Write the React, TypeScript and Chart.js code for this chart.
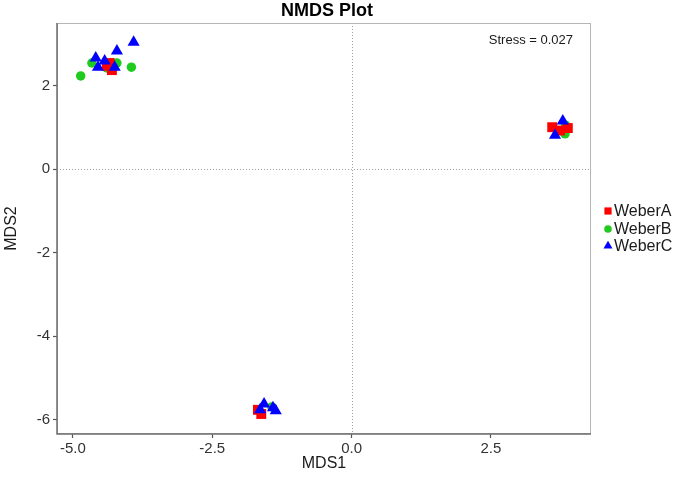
import React, { useEffect, useRef } from "react";
import { Chart, registerables } from "chart.js";

Chart.register(...registerables);

const seriesNames = ["WeberA", "WeberB", "WeberC"];
const seriesColors = ["#ff0000", "#1ecb1e", "#0000ff"];

const weberAx = [-4.34, -4.3, -4.39, 3.6, 3.88, 3.74, -1.68, -1.62];
const weberAy = [2.55, 2.38, 2.48, 1.01, 0.99, 0.93, -5.77, -5.87];

const weberBx = [-4.86, -4.66, -4.39, -4.21, -3.95, 3.79, 3.84, 3.83, -1.43];
const weberBy = [2.24, 2.55, 2.43, 2.55, 2.45, 0.92, 1.06, 0.85, -5.7];

const weberCx = [-3.91, -4.21, -4.59, -4.55, -4.25, -4.43, 3.79, 3.65, -1.57, -1.64, -1.41, -1.36];
const weberCy = [3.05, 2.84, 2.67, 2.45, 2.45, 2.6, 1.16, 0.82, -5.63, -5.77, -5.72, -5.79];

const xTicks = [-5, -2.5, 0, 2.5];
const yTicks = [-6, -4, -2, 0, 2];
const xRange = [-5.285, 4.296];
const yRange = [-6.35, 3.51];

const titleText = "NMDS Plot";
const stressText = "Stress = 0.027";
const xTitle = "MDS1";
const yTitle = "MDS2";

const FONT = "'Liberation Sans', Arial, Helvetica, sans-serif";

function toPoints(xs: number[], ys: number[]) {
  return xs.map((x, i) => ({ x, y: ys[i] }));
}

function drawMarker(ctx: CanvasRenderingContext2D, style: string, x: number, y: number, r: number) {
  ctx.beginPath();
  if (style === "rect") {
    ctx.rect(x - r, y - r, 2 * r, 2 * r);
  } else if (style === "circle") {
    ctx.arc(x, y, r, 0, Math.PI * 2);
  } else {
    ctx.moveTo(x, y - r);
    ctx.lineTo(x + r * 0.866, y + r * 0.5);
    ctx.lineTo(x - r * 0.866, y + r * 0.5);
    ctx.closePath();
  }
  ctx.fill();
}

const decorPlugin = {
  id: "decor",
  beforeDatasetsDraw(chart: any) {
    const { ctx, chartArea, scales } = chart;
    const { left, right, top, bottom } = chartArea;
    ctx.save();
    ctx.strokeStyle = "#a0a0a0";
    ctx.lineWidth = 1;
    ctx.setLineDash([1, 2]);
    const x0 = Math.round(scales.x.getPixelForValue(0)) + 0.5;
    const y0 = Math.round(scales.y.getPixelForValue(0)) + 0.5;
    ctx.beginPath();
    ctx.moveTo(x0, top);
    ctx.lineTo(x0, bottom);
    ctx.moveTo(left, y0);
    ctx.lineTo(right, y0);
    ctx.stroke();
    ctx.setLineDash([]);
    ctx.strokeStyle = "#b5b5b5";
    ctx.lineWidth = 1;
    ctx.strokeRect(left + 0.5, top + 0.5, right - left - 1, bottom - top - 1);
    ctx.strokeStyle = "#6e6e6e";
    ctx.lineWidth = 1.5;
    ctx.beginPath();
    ctx.moveTo(left, top);
    ctx.lineTo(left, bottom);
    ctx.lineTo(right, bottom);
    ctx.stroke();
    ctx.restore();
  },
  afterDraw(chart: any) {
    const { ctx, chartArea } = chart;
    ctx.save();
    ctx.fillStyle = "#000";
    ctx.font = `bold 18px ${FONT}`;
    ctx.textAlign = "center";
    ctx.textBaseline = "middle";
    ctx.fillText(titleText, (chartArea.left + chartArea.right) / 2 + 3, 11);
    ctx.font = `13px ${FONT}`;
    ctx.fillStyle = "#1a1a1a";
    ctx.textAlign = "right";
    ctx.fillText(stressText, chartArea.right - 18, 40);
    const styles = ["rect", "circle", "triangle"];
    const radii = [3.6, 3.8, 5.2];
    const ys = [211, 229, 246];
    ctx.font = `16px ${FONT}`;
    ctx.textAlign = "left";
    for (let i = 0; i < seriesNames.length; i++) {
      ctx.fillStyle = seriesColors[i];
      drawMarker(ctx, styles[i], 608, ys[i], radii[i]);
      ctx.fillStyle = "#1a1a1a";
      ctx.fillText(seriesNames[i], 614, ys[i] + 1);
    }
    ctx.restore();
  },
};

export default function App() {
  const canvasRef = useRef<HTMLCanvasElement | null>(null);

  useEffect(() => {
    if (!canvasRef.current) return;
    const chart = new Chart(canvasRef.current, {
      type: "scatter",
      data: {
        datasets: [
          {
            label: seriesNames[0],
            data: toPoints(weberAx, weberAy),
            pointStyle: "rect",
            pointRadius: 7,
            backgroundColor: seriesColors[0],
            borderColor: seriesColors[0],
            borderWidth: 0,
            order: 2,
          },
          {
            label: seriesNames[1],
            data: toPoints(weberBx, weberBy),
            pointStyle: "circle",
            pointRadius: 4.7,
            backgroundColor: seriesColors[1],
            borderColor: seriesColors[1],
            borderWidth: 0,
            order: 3,
          },
          {
            label: seriesNames[2],
            data: toPoints(weberCx, weberCy),
            pointStyle: "triangle",
            pointRadius: 7,
            backgroundColor: seriesColors[2],
            borderColor: seriesColors[2],
            borderWidth: 0,
            order: 1,
          },
        ],
      },
      options: {
        animation: false,
        responsive: true,
        maintainAspectRatio: false,
        layout: { padding: { top: 23, right: 94, bottom: 6, left: 0 } },
        plugins: {
          legend: { display: false },
          title: { display: false },
          tooltip: { enabled: false },
        },
        scales: {
          x: {
            type: "linear",
            min: xRange[0],
            max: xRange[1],
            afterBuildTicks: (s: any) => {
              s.ticks = xTicks.map((v) => ({ value: v }));
            },
            afterFit: (s: any) => {
              s.height = 44;
            },
            ticks: {
              autoSkip: false,
              maxRotation: 0,
              padding: 2,
              color: "#333",
              font: { family: FONT, size: 15 },
              callback: (v: any) => Number(v).toFixed(1),
            },
            grid: {
              drawOnChartArea: false,
              drawTicks: true,
              tickLength: 4,
              tickColor: "#555",
              tickWidth: 1.2,
            },
            border: { display: false },
            title: {
              display: true,
              text: xTitle,
              color: "#1a1a1a",
              font: { family: FONT, size: 16 },
              padding: { top: 0, bottom: 5 },
            },
          },
          y: {
            type: "linear",
            min: yRange[0],
            max: yRange[1],
            afterBuildTicks: (s: any) => {
              s.ticks = yTicks.map((v) => ({ value: v }));
            },
            afterFit: (s: any) => {
              s.width = 57;
            },
            ticks: {
              autoSkip: false,
              padding: 3,
              color: "#333",
              font: { family: FONT, size: 15 },
              callback: (v: any) => String(v),
            },
            grid: {
              drawOnChartArea: false,
              drawTicks: true,
              tickLength: 4,
              tickColor: "#555",
              tickWidth: 1.2,
            },
            border: { display: false },
            title: {
              display: true,
              text: yTitle,
              color: "#1a1a1a",
              font: { family: FONT, size: 16 },
              padding: { top: 2, bottom: 0 },
            },
          },
        },
      },
      plugins: [decorPlugin],
    });
    return () => chart.destroy();
  }, []);

  return (
    <div style={{ position: "absolute", left: 0, top: 0, width: 685, height: 484, background: "#fff" }}>
      <canvas ref={canvasRef} />
    </div>
  );
}
